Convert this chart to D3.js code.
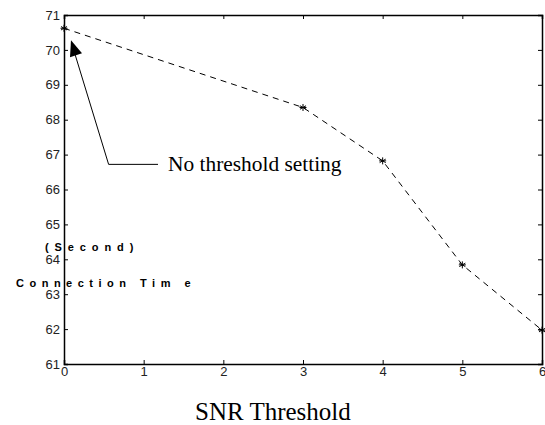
<!DOCTYPE html>
<html><head><meta charset="utf-8">
<script src="https://cdn.jsdelivr.net/npm/d3@7"></script>
<style>body{margin:0;background:#fff}svg{display:block}</style>
</head><body>
<script>
const xValues = [0, 3, 4, 5, 6];
const yValues = [70.62, 68.35, 66.82, 63.84, 61.97];
const xTicks = [0, 1, 2, 3, 4, 5, 6];
const yTicks = [61, 62, 63, 64, 65, 66, 67, 68, 69, 70, 71];

const W = 545, H = 425;
const m = {l: 64, r: 3, t: 15, b: 61};
const svg = d3.select("body").append("svg").attr("width", W).attr("height", H);
const x = d3.scaleLinear().domain([0, 6]).range([m.l, W - m.r]);
const y = d3.scaleLinear().domain([61, 71]).range([H - m.b, m.t]);

const font = "Liberation Sans, Arial, sans-serif";
const serif = "Liberation Serif, Times New Roman, serif";
// axes
const ax = svg.append("g").attr("transform", `translate(0,${H - m.b})`)
  .call(d3.axisBottom(x).tickValues(xTicks).tickSize(-4).tickPadding(5).tickFormat(d3.format("d")));
const ay = svg.append("g").attr("transform", `translate(${m.l},0)`)
  .call(d3.axisLeft(y).tickValues(yTicks).tickSize(-4).tickPadding(4).tickFormat(d3.format("d")));
const at = svg.append("g").attr("transform", `translate(0,${m.t})`)
  .call(d3.axisTop(x).tickValues(xTicks).tickSize(-4).tickFormat(""));
const ar = svg.append("g").attr("transform", `translate(${W - m.r},0)`)
  .call(d3.axisRight(y).tickValues(yTicks).tickSize(-4).tickFormat(""));
[ax, ay, at, ar].forEach(g => {
  g.selectAll("path").attr("stroke", "#000").attr("stroke-width", 1.5);
  g.selectAll("line").attr("stroke", "#000");
  g.selectAll("text").attr("font-family", font).attr("font-size", 13).attr("fill", "#222");
});
ax.selectAll("text").attr("dy", "0.55em");

// line
const data = xValues.map((v, i) => [v, yValues[i]]);
svg.append("path").datum(data)
  .attr("d", d3.line().x(d => x(d[0])).y(d => y(d[1])))
  .attr("fill", "none").attr("stroke", "#000").attr("stroke-width", 1)
  .attr("stroke-dasharray", "6,5");
// star markers
const mk = svg.append("g");
data.forEach(d => {
  const cx = x(d[0]), cy = y(d[1]), r = 3.5;
  const g = mk.append("g").attr("transform", `translate(${cx},${cy})`);
  [0, 60, 120].forEach(a => {
    const rad = a * Math.PI / 180;
    g.append("line").attr("x1", -r * Math.sin(rad)).attr("y1", -r * Math.cos(rad))
      .attr("x2", r * Math.sin(rad)).attr("y2", r * Math.cos(rad))
      .attr("stroke", "#000").attr("stroke-width", 1);
  });
  g.append("line").attr("x1", -r).attr("x2", r).attr("y1", 0).attr("y2", 0).attr("stroke", "#000");
});

// annotation
const tip = [x(0) + 7, y(70.62) + 12];
const elbow = [x(0.56), y(66.72)];
const endH = [x(1.18), y(66.72)];
svg.append("polyline")
  .attr("points", [[tip[0] + 4, tip[1] + 14], elbow, endH].map(p => p.join(",")).join(" "))
  .attr("fill", "none").attr("stroke", "#000").attr("stroke-width", 1);
svg.append("polygon")
  .attr("points", [[tip[0], tip[1]], [tip[0] - 1, tip[1] + 17], [tip[0] + 11, tip[1] + 13]].map(p => p.join(",")).join(" "))
  .attr("fill", "#000");
svg.append("text").attr("x", endH[0] + 10).attr("y", elbow[1] + 6.5)
  .attr("font-family", serif).attr("font-size", 21.4)
  .text("No threshold setting");

// axis labels
svg.append("text").attr("x", 195).attr("y", 420)
  .attr("font-family", serif).attr("font-size", 25)
  .text("SNR Threshold");
svg.append("text").attr("x", 45).attr("y", 250.5)
  .attr("font-family", font).attr("font-size", 11).attr("font-weight", "bold")
  .attr("letter-spacing", "5.9").text("(Second)");
svg.append("text").attr("x", 16).attr("y", 286.5)
  .attr("font-family", font).attr("font-size", 11).attr("font-weight", "bold")
  .attr("letter-spacing", "5.5").text("Connection Tim e");
</script>
</body></html>
